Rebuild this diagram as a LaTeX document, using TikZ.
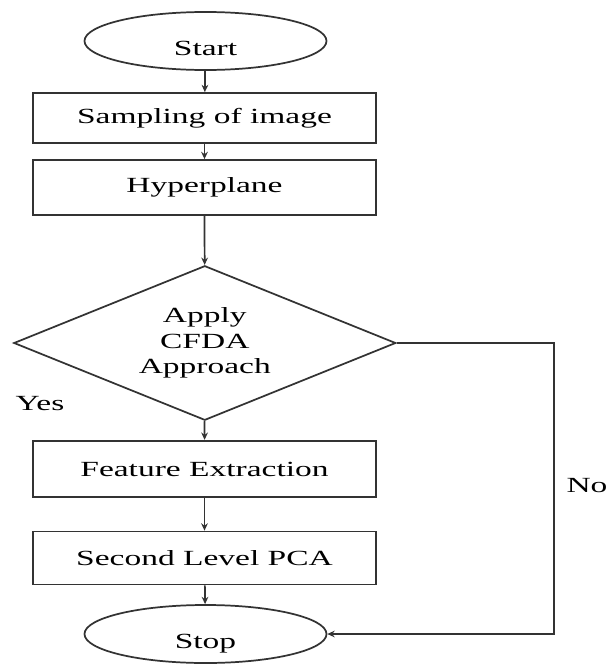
\documentclass[tikz,border=0pt]{standalone}
\usepackage{fontspec}
\setmainfont{Liberation Serif}[FakeStretch=1.55]
\usepackage{tikz}
\usetikzlibrary{shapes.geometric,arrows.meta}

\tikzset{
  terminal/.style={ellipse, draw=black!80, minimum width=181.5pt, minimum height=43.5pt,
                   inner sep=0pt, text height=24pt, text depth=2pt},
  process/.style={rectangle, draw=black!80, minimum width=257.25pt, inner sep=0pt},
  decision/.style={diamond, draw=black!80, shape aspect=2.47, minimum width=286.5pt,
                   minimum height=115.9pt, inner sep=0pt, align=center},
}

\begin{document}
\begin{tikzpicture}[>={Stealth[length=5.5pt,width=5pt]},line width=1.3pt,x=0.75pt,y=-0.75pt,
                    font=\fontsize{16.2}{19.1}\selectfont]
    \useasboundingbox (0,0) rectangle (608,664);

    \node[terminal] (start) at (205.5,41) {Start};
    \node[process, minimum height=37.5pt] (sampling) at (204.5,118) {Sampling of image};
    \node[process, minimum height=41.25pt] (hyper) at (204.5,187.5) {Hyperplane};
    \node[decision] (apply) at (204.8,343) {Apply\\CFDA\\Approach};
    \node[process, minimum height=42.4pt] (feature) at (204.5,469) {Feature Extraction};
    \node[process, minimum height=39.75pt] (pca) at (204.5,558) {Second Level PCA};
    \node[terminal] (stop) at (205.5,634) {Stop};

    \node (yes) at (40,404) {Yes};
    \node (no) at (587,486) {No};

%	\draw[->] (apply.east) -| (stop.east);
    \coordinate (noturn) at (554.3,343);

    \draw[->,draw=black!80] (start) -- (sampling);
    \draw[->,draw=black!80] (sampling) -- (hyper);
    \draw[->,draw=black!80] (hyper) -- (apply);
    \draw[->,draw=black!80] (apply) -- (feature);
    \draw[->,draw=black!80] (feature) -- (pca);
    \draw[->,draw=black!80] (pca) -- (stop);
    \draw[->,draw=black!80] (apply.east) -- (noturn) |- (stop.east);

\end{tikzpicture}
\end{document}
